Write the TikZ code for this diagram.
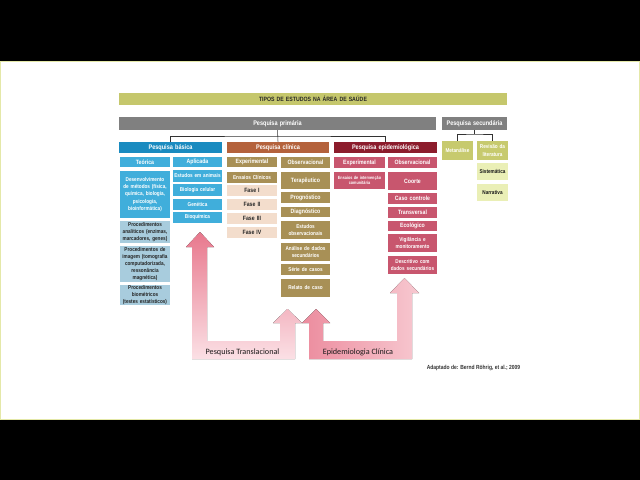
\documentclass[tikz,border=0pt]{standalone}
\usepackage{fontspec}
\newfontfamily\narrow{Liberation Sans}[FakeStretch=0.84]
\newfontfamily\calib{Carlito}
\usetikzlibrary{arrows.meta}
\definecolor{slideline}{RGB}{228,232,168}
\definecolor{titleolive}{RGB}{197,199,108}
\definecolor{primgray}{RGB}{128,128,128}
\definecolor{basblue}{RGB}{26,139,192}
\definecolor{basmid}{RGB}{64,174,219}
\definecolor{baspale}{RGB}{168,204,221}
\definecolor{clinbrown}{RGB}{180,98,60}
\definecolor{clinolive}{RGB}{168,144,86}
\definecolor{clinpale}{RGB}{243,221,204}
\definecolor{epired}{RGB}{140,28,44}
\definecolor{epirose}{RGB}{200,86,110}
\definecolor{secolive}{RGB}{199,202,110}
\definecolor{secpale}{RGB}{234,239,182}
\definecolor{arrdeep}{RGB}{232,120,141}
\definecolor{arrmid}{RGB}{236,140,158}
\definecolor{arrlight}{RGB}{247,200,208}
\definecolor{arrpale}{RGB}{251,224,229}
\newcommand\fsA{\narrow\bfseries\fontsize{4.7}{5.3}\selectfont}
\newcommand\fsB{\narrow\bfseries\fontsize{4.4}{5.1}\selectfont}
\newcommand\fsC{\narrow\bfseries\fontsize{3.95}{5.1}\selectfont}
\newcommand\fsD{\narrow\bfseries\fontsize{3.2}{3.9}\selectfont}
% box from its corners in pixel units: name, style, x1, y1, x2, y2, text
\newcommand\cellbox[7]{%
  \pgfmathsetlengthmacro\cw{((#5)-(#3))*0.025cm}%
  \pgfmathsetlengthmacro\ch{((#6)-(#4))*0.025cm}%
  \pgfmathsetlengthmacro\tw{((#5)-(#3))*0.025cm-1pt}%
  \node[#2,minimum width=\cw,minimum height=\ch,text width=\tw]
    (#1) at ({((#3)+(#5))/2},{((#4)+(#6))/2}) {#7};}

\begin{document}
\begin{tikzpicture}[x=0.025cm,y=-0.025cm,
  box/.style={inner xsep=0.5pt,inner ysep=0pt,align=center,text=white,font=\fsB},
  ttl/.style={box,fill=titleolive,text=black!85,font=\fsB},
  grayhdr/.style={box,fill=primgray,font=\fsA},
  bhdr/.style={box,fill=basblue,font=\fsA},
  bsub/.style={box,fill=basmid},
  bpale/.style={box,fill=baspale,text=black!85,font=\fsC},
  chdr/.style={box,fill=clinbrown,font=\fsA},
  csub/.style={box,fill=clinolive},
  fase/.style={box,fill=clinpale,text=black!85},
  ehdr/.style={box,fill=epired,font=\fsA},
  esub/.style={box,fill=epirose},
  ssub/.style={box,fill=secolive,font=\fsC},
  spale/.style={box,fill=secpale,text=black!90,font=\fsC},
  conn/.style={draw=black!80,line width=0.4pt},
  lbl/.style={font=\calib\fontsize{5.8}{7}\selectfont,text=black!90,inner sep=0pt},
]
\useasboundingbox (0,0) rectangle (640,480);
% ---- slide ----
\fill[black] (0,0) rectangle (640,480);
\filldraw[fill=white,draw=slideline,line width=0.7pt] (0.5,61) rectangle (639.5,419);

% ---- arrows behind the boxes ----
\fill[top color=arrdeep,bottom color=arrpale]
  (192,359) -- (192,247) -- (186,247) -- (200,232) -- (214,247) -- (207,247)
  -- (207,341) -- (280,341) -- (280,323) -- (273,323) -- (287.5,309)
  -- (302,323) -- (295,323) -- (295,359) -- cycle;
\fill[left color=arrmid,right color=arrlight]
  (309,359) -- (309,323) -- (302,323) -- (316,309) -- (330,323) -- (323,323)
  -- (323,341) -- (397,341) -- (397,293) -- (390,293) -- (404.5,278)
  -- (419,293) -- (412,293) -- (412,359) -- cycle;
\node[lbl] (trans) at (242.5,352) {Pesquisa Translacional};
\node[lbl] (epic) at (358,352) {Epidemiologia Clínica};

% ---- top bars ----
\cellbox{tit}{ttl}{119}{93}{507}{105}{TIPOS DE ESTUDOS NA ÁREA DE SAÚDE}
\cellbox{prim}{grayhdr}{119}{117}{436}{130}{Pesquisa primária}
\cellbox{sec}{grayhdr}{442}{117}{507}{130}{Pesquisa secundária}

% ---- Pesquisa básica ----
\cellbox{bas}{bhdr}{119}{142}{222}{153}{Pesquisa básica}
\cellbox{teo}{bsub}{120}{157}{170}{167}{Teórica}
\cellbox{apl}{bsub}{173}{157}{222}{167}{Aplicada}
\cellbox{dev}{bsub,font=\fsC}{120}{171}{170}{218}{Desenvolvimento\\de métodos (física,\\química, biologia,\\psicologia,\\bioinformática)}
\foreach \n/\ya/\yb/\t in {ani/170/182/{Estudos em animais},cel/184/196/{Biologia celular},
    gen/199/210/{Genética},bqm/212/223/{Bioquímica}}{
  \cellbox{\n}{bsub,font=\fsC}{173}{\ya}{222}{\yb}{\t}
}
\foreach \n/\ya/\yb/\t in {pan/221/243/{Procedimentos\\analíticos (enzimas,\\marcadores, genes)},
    pim/246/282/{Procedimentos de\\imagem (tomografia\\computadorizada,\\ressonância\\magnética)},
    pbm/285/305/{Procedimentos\\biométricos\\(testes estatísticos)}}{
  \cellbox{\n}{bpale}{120}{\ya}{170}{\yb}{\t}
}

% ---- Pesquisa clínica ----
\cellbox{clin}{chdr}{227}{142}{329}{153}{Pesquisa clínica}
\cellbox{cexp}{csub}{227}{157}{277}{167}{Experimental}
\cellbox{cobs}{csub}{281}{157}{330}{168}{Observacional}
\cellbox{ens}{csub,font=\fsC}{227}{172}{277}{183}{Ensaios Clínicos}
\foreach \r [count=\k from 0] in {I,II,III,IV}{
  \cellbox{f\r}{fase}{227}{185+14*\k}{277}{196+14*\k}{Fase \r}
}
\foreach \n/\ya/\yb/\t in {ter/172/189/{Terapêutico},pro/192/203/{Prognóstico},
    dia/207/217/{Diagnóstico},eob/221/239/{\fsC Estudos\\observacionais},
    ads/243/261/{\fsC Análise de dados\\secundários},sca/264/275/{\fsC Série de casos},
    rca/279/297/{\fsC Relato de caso}}{
  \cellbox{\n}{csub}{281}{\ya}{330}{\yb}{\t}
}

% ---- Pesquisa epidemiológica ----
\cellbox{epi}{ehdr}{334}{142}{437}{153}{Pesquisa epidemiológica}
\cellbox{eexp}{esub}{334}{157}{385}{168}{Experimental}
\cellbox{eobs}{esub}{388}{157}{437}{168}{Observacional}
\cellbox{eic}{esub,font=\fsD}{334}{172}{385}{189}{Ensaios de intervenção\\comunitária}
\foreach \n/\ya/\yb/\t in {coo/172/190/{Coorte},cco/193/204/{Caso controle},
    tra/207/218/{Transversal},eco/221/231/{Ecológico},
    vig/234/252/{\fsC Vigilância e\\monitoramento},
    dsc/256/274/{\fsC Descritivo com\\dados secundários}}{
  \cellbox{\n}{esub}{388}{\ya}{437}{\yb}{\t}
}

% ---- Pesquisa secundária ----
\cellbox{met}{ssub}{442}{141}{473}{160}{Metanálise}
\cellbox{rev}{ssub}{477}{141}{508}{160}{Revisão da\\literatura}
\cellbox{sis}{spale}{477}{163}{508}{180}{Sistemática}
\cellbox{nar}{spale}{477}{184}{508}{201}{Narrativa}

% ---- connectors ----
\coordinate (pj) at (277.5,136);
\coordinate (sj) at (474.5,134);
\draw[conn] (prim.south) -- (clin.north);
\draw[conn] (bas.north) |- (pj) -| (epi.north);
\draw[conn] (sec.south) -- (sj);
\draw[conn] (met.north) |- (sj) -| (rev.north);

% ---- source ----
\node[font=\narrow\bfseries\fontsize{4.2}{5}\selectfont,text=black!80,inner sep=0pt] (fonte) at (473.5,368) {Adaptado de: Bernd Röhrig, et al.; 2009};
\end{tikzpicture}
\end{document}
